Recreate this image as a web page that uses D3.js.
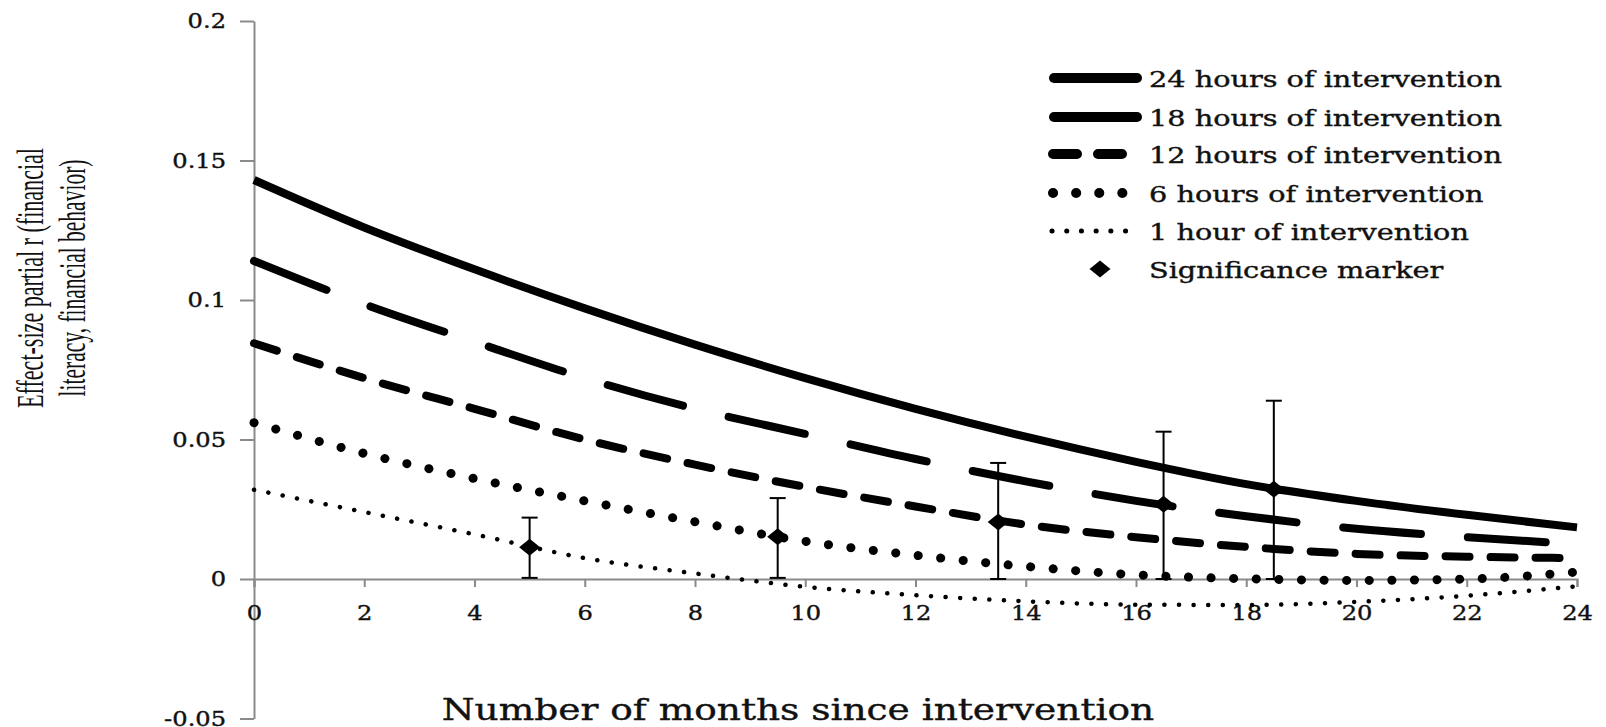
<!doctype html>
<html lang="en">
<head>
<meta charset="utf-8" />
<title>Effect-size decay by hours of intervention</title>
<script src="https://cdn.jsdelivr.net/npm/d3@7"></script>
<style>
  body { margin: 0; background: #fff; }
  svg { display: block; }
</style>
</head>
<body>
<script>
// values (months since intervention -> partial r)
var months = [0, 2, 4, 6, 8, 10, 12, 14, 16, 18, 20, 22, 24];
var hours24 = [0.143, 0.126, 0.111, 0.097, 0.084, 0.072, 0.061, 0.051, 0.042, 0.034, 0.028, 0.023, 0.0185];
var hours18 = [0.114, 0.0985, 0.085, 0.072, 0.061, 0.052, 0.043, 0.035, 0.028, 0.0225, 0.018, 0.015, 0.0125];
var hours12 = [0.0845, 0.072, 0.061, 0.050, 0.041, 0.033, 0.026, 0.0195, 0.015, 0.0115, 0.009, 0.008, 0.0075];
var hours6 = [0.056, 0.045, 0.036, 0.028, 0.0205, 0.0135, 0.0085, 0.0045, 0.0015, 0.0001, -0.0005, 0.0, 0.0025];
var hours1 = [0.032, 0.024, 0.016, 0.0075, 0.002, -0.0028, -0.0058, -0.008, -0.0092, -0.0093, -0.0082, -0.006, -0.0026];

var sigMonths = [5, 9.5, 13.5, 16.5, 18.5];
var sigValues = [0.0114, 0.0151, 0.0204, 0.0268, 0.0322];
var sigLow = [0.0004, 0.0004, 0, 0, 0];
var sigHigh = [0.022, 0.029, 0.0416, 0.0528, 0.0639];

var legendLabels = ["24 hours of intervention", "18 hours of intervention", "12 hours of intervention",
                    "6 hours of intervention", "1 hour of intervention", "Significance marker"];
var xTicks = [0, 2, 4, 6, 8, 10, 12, 14, 16, 18, 20, 22, 24];
var yTicks = [-0.05, 0, 0.05, 0.1, 0.15, 0.2];

var w = 1606, h = 727;
var stretch = 1.25;      // the picture is stretched sideways, text with it
var tickStretch = 1.15;
var serif = "'DejaVu Serif', 'Liberation Serif', serif";
var axisGrey = "#8a8a8a";
var ink = "#111";

var svg = d3.select("body").append("svg")
  .attr("width", w).attr("height", h);
svg.append("rect").attr("width", w).attr("height", h).attr("fill", "#fff");

var x = d3.scaleLinear().domain([0, 24]).range([254, 1577]);
var y = d3.scaleLinear().domain([-0.05, 0.2]).range([718.5, 21]);

// y axis
var yAxis = svg.append("g")
  .attr("transform", "translate(" + x(0) + ",0)")
  .call(d3.axisLeft(y).tickValues(yTicks).tickSize(14).tickSizeOuter(0)
    .tickFormat(function(d) { return String(+d.toFixed(2)); }));
yAxis.select(".domain").attr("stroke", axisGrey).attr("stroke-width", 2);
yAxis.selectAll(".tick line").attr("stroke", axisGrey).attr("stroke-width", 2);
yAxis.selectAll(".tick text")
  .attr("x", -28 / tickStretch)
  .attr("transform", "scale(" + tickStretch + ",1)")
  .attr("font-family", serif).attr("font-size", 21).attr("fill", ink)
  .attr("stroke", ink).attr("stroke-width", 0.4);

// x axis on the zero line
var xAxis = svg.append("g")
  .attr("transform", "translate(0," + y(0) + ")")
  .call(d3.axisBottom(x).tickValues(xTicks).tickSize(8).tickSizeOuter(8).tickPadding(18));
xAxis.select(".domain").attr("stroke", axisGrey).attr("stroke-width", 2);
xAxis.selectAll(".tick line").attr("stroke", axisGrey).attr("stroke-width", 2);
xAxis.selectAll(".tick text")
  .attr("transform", "scale(" + tickStretch + ",1)")
  .attr("font-family", serif).attr("font-size", 21).attr("fill", ink)
  .attr("stroke", ink).attr("stroke-width", 0.4);

// curves
var line = d3.line()
  .x(function(d) { return x(d[0]); })
  .y(function(d) { return y(d[1]); })
  .curve(d3.curveMonotoneX);

var series = [
  { values: hours24, width: 8, dash: null },
  { values: hours18, width: 8, dash: "78,47" },
  { values: hours12, width: 8, dash: "24,21" },
  { values: hours6, width: 9, dash: "0.1,22.5" },
  { values: hours1, width: 4.5, dash: "0.1,14.5" }
];

series.forEach(function(s) {
  svg.append("path")
    .datum(months.map(function(m, i) { return [m, s.values[i]]; }))
    .attr("d", line)
    .attr("fill", "none")
    .attr("stroke", "#000")
    .attr("stroke-width", s.width)
    .attr("stroke-linecap", s.dash ? "round" : "butt")
    .attr("stroke-dasharray", s.dash);
});

// error bars and diamonds
var bars = svg.append("g").attr("stroke", "#000").attr("stroke-width", 2);
sigMonths.forEach(function(m, i) {
  var cx = x(m);
  bars.append("line").attr("x1", cx).attr("x2", cx).attr("y1", y(sigLow[i])).attr("y2", y(sigHigh[i]));
  bars.append("line").attr("x1", cx - 8).attr("x2", cx + 8).attr("y1", y(sigHigh[i])).attr("y2", y(sigHigh[i]));
  bars.append("line").attr("x1", cx - 8).attr("x2", cx + 8).attr("y1", y(sigLow[i])).attr("y2", y(sigLow[i]));
});

function diamond(cx, cy) {
  return "M" + (cx - 10.5) + "," + cy + "L" + cx + "," + (cy - 8.5) +
         "L" + (cx + 10.5) + "," + cy + "L" + cx + "," + (cy + 8.5) + "Z";
}
svg.selectAll(".sig")
  .data(sigMonths)
  .enter()
  .append("path")
  .attr("d", function(m, i) { return diamond(x(m), y(sigValues[i])); })
  .attr("fill", "#000");

// legend (keys drawn as in the picture: 18 hours shows solid there)
var rowY = [78, 117, 154, 193, 231, 269];
var keys = [
  { x1: 1054, x2: 1137, width: 10, dash: null, cap: "round" },
  { x1: 1054, x2: 1137, width: 10, dash: null, cap: "round" },
  { x1: 1053, x2: 1123, width: 10, dash: "24,21", cap: "round" },
  { x1: 1053, x2: 1123, width: 10, dash: "0.1,23", cap: "round" },
  { x1: 1052, x2: 1126, width: 5, dash: "0.1,14.6", cap: "round" }
];
var legend = svg.append("g");
keys.forEach(function(k, i) {
  legend.append("line")
    .attr("x1", k.x1).attr("x2", k.x2).attr("y1", rowY[i]).attr("y2", rowY[i])
    .attr("stroke", "#000").attr("stroke-width", k.width)
    .attr("stroke-linecap", k.cap).attr("stroke-dasharray", k.dash);
});
legend.append("path").attr("d", diamond(1100, rowY[5])).attr("fill", "#000");

legendLabels.forEach(function(t, i) {
  legend.append("text")
    .attr("transform", "translate(1149," + (rowY[i] + 8.5) + ") scale(" + stretch + ",1)")
    .attr("font-family", serif).attr("font-size", 23).attr("fill", ink)
    .attr("stroke", ink).attr("stroke-width", 0.4)
    .text(t);
});

// axis titles
svg.append("text")
  .attr("transform", "translate(798,720) scale(" + stretch + ",1)")
  .attr("text-anchor", "middle")
  .attr("font-family", serif).attr("font-size", 30).attr("fill", ink)
  .attr("stroke", ink).attr("stroke-width", 0.4)
  .text("Number of months since intervention");

var yTitle = ["Effect-size partial r (financial", "literacy, financial behavior)"];
var yTitleLen = [260, 237];
var yTitleX = [30, 72];
yTitle.forEach(function(t, i) {
  svg.append("text")
    .attr("transform", "translate(" + yTitleX[i] + ",278) rotate(-90) scale(1," + stretch + ")")
    .attr("text-anchor", "middle")
    .attr("dominant-baseline", "central")
    .attr("font-family", "'Liberation Serif', 'DejaVu Serif', serif")
    .attr("font-size", 30)
    .attr("textLength", yTitleLen[i])
    .attr("lengthAdjust", "spacingAndGlyphs")
    .attr("fill", ink)
    .text(t);
});
</script>
</body>
</html>
